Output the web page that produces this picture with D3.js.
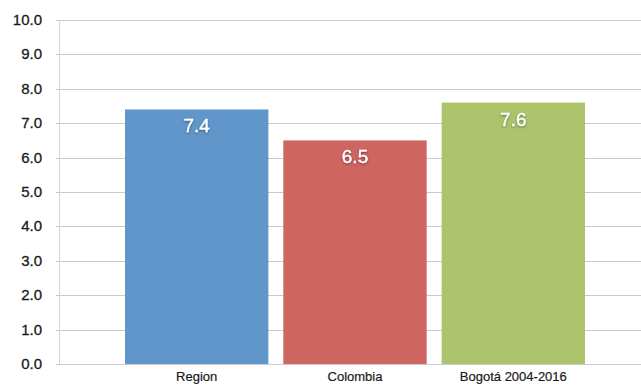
<!DOCTYPE html>
<html><head><meta charset="utf-8">
<script src="https://cdn.jsdelivr.net/npm/d3@7"></script>
<style>body{margin:0;background:#fff;} svg{display:block;}</style>
</head><body>
<script>
const categories = ["Region", "Colombia", "Bogotá 2004-2016"];
const values = [7.4, 6.5, 7.6];
const colors = ["#6096c9", "#cd6561", "#adc46c"];
const yTicks = [0,1,2,3,4,5,6,7,8,9,10];

const W = 641, H = 385;
const svg = d3.select("body").append("svg").attr("width", W).attr("height", H);
const font = "'Liberation Sans', Arial, Helvetica, sans-serif";

const y = d3.scaleLinear().domain([0, 10]).range([364, 20]);
const x = d3.scaleBand().domain(categories).range([125, 585]).paddingInner(0.0946).paddingOuter(0);

// gridlines
svg.append("g").selectAll("line").data(yTicks).join("line")
  .attr("x1", 56).attr("x2", W)
  .attr("y1", d => Math.round(y(d)) + 0.5).attr("y2", d => Math.round(y(d)) + 0.5)
  .attr("stroke", "#c9c9c9").attr("stroke-width", 1);
// vertical axis line
svg.append("line").attr("x1", 59.5).attr("x2", 59.5).attr("y1", y(10)).attr("y2", y(0))
  .attr("stroke", "#d4d4d4");

// y labels
svg.append("g").selectAll("text").data(yTicks).join("text")
  .attr("x", 42).attr("y", d => y(d) + 5)
  .attr("text-anchor", "end").attr("font-family", font).attr("font-size", 15)
  .attr("fill", "#1a1a1a").attr("stroke", "#1a1a1a").attr("stroke-width", 0.3)
  .text(d => d.toFixed(1));

const defs = svg.append("defs");
const f = defs.append("filter").attr("id", "sh").attr("x", "-20%").attr("y", "-20%").attr("width", "140%").attr("height", "140%");
f.append("feDropShadow").attr("dx", 0).attr("dy", 1).attr("stdDeviation", 1).attr("flood-color", "#000").attr("flood-opacity", 0.45);

// bars
svg.append("g").selectAll("rect").data(values).join("rect")
  .attr("x", (d, i) => x(categories[i])).attr("width", x.bandwidth())
  .attr("y", d => y(d)).attr("height", d => y(0) - y(d))
  .attr("fill", (d, i) => colors[i]);

// value labels
svg.append("g").selectAll("text").data(values).join("text")
  .attr("x", (d, i) => x(categories[i]) + x.bandwidth() / 2)
  .attr("y", d => y(d) + 23)
  .attr("text-anchor", "middle").attr("font-family", font).attr("font-size", 19)
  .attr("fill", "#fff").attr("stroke", "#fff").attr("stroke-width", 0.3)
  .attr("filter", "url(#sh)").text(d => d.toFixed(1));

// category labels
svg.append("g").selectAll("text").data(categories).join("text")
  .attr("x", d => x(d) + x.bandwidth() / 2).attr("y", 381)
  .attr("text-anchor", "middle").attr("font-family", font).attr("font-size", 13)
  .attr("fill", "#1a1a1a").attr("stroke", "#1a1a1a").attr("stroke-width", 0.2)
  .text(d => d);
</script>
</body></html>
